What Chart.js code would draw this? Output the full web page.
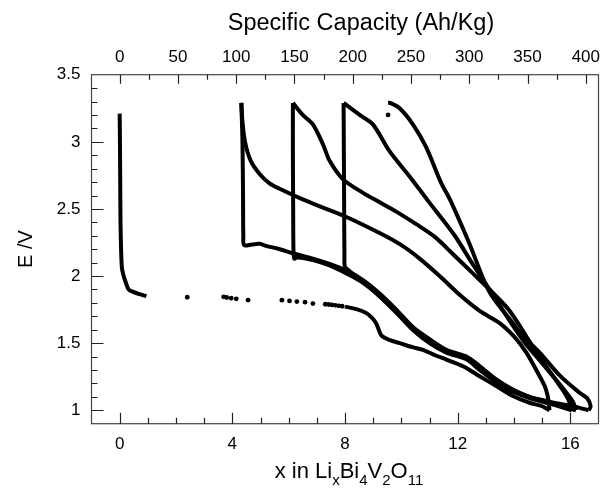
<!DOCTYPE html>
<html><head><meta charset="utf-8">
<script src="https://cdn.jsdelivr.net/npm/chart.js@4.4.1/dist/chart.umd.min.js"></script>
<style>html,body{margin:0;padding:0;background:#fff;}#wrap{width:605px;height:490px;}</style>
</head><body><div id="wrap"><canvas id="c" width="605" height="490"></canvas></div>
<script>
// ---- tick definitions ----
const X_MAJOR = [0, 4, 8, 12, 16];
const X_MINOR = [1, 2, 3, 5, 6, 7, 9, 10, 11, 13, 14, 15];
const CAP_MAJOR = [0, 50, 100, 150, 200, 250, 300, 350, 400];
const CAP_MINOR = [25, 75, 125, 175, 225, 275, 325, 375];
const Y_MAJOR = [1, 1.5, 2, 2.5, 3, 3.5];
const Y_MINOR = [1.1, 1.2, 1.3, 1.4, 1.6, 1.7, 1.8, 1.9, 2.1, 2.2, 2.3, 2.4, 2.6, 2.7, 2.8, 2.9, 3.1, 3.2, 3.3, 3.4];
const CAP_PER_X = 24.17; // Ah/Kg per x unit

// ---- data: [x in LixBi4V2O11, E/V] ----
const discharge1 = [[0.0,3.21],[0.01,3.0],[0.02,2.7],[0.03,2.4],[0.05,2.2],[0.08,2.06],[0.13,2.01],[0.22,1.95],[0.32,1.9],[0.5,1.88],[0.7,1.865],[0.95,1.85]];
const discharge1Dots = [[2.4,1.842],[3.69,1.845],[3.8,1.84],[3.96,1.835],[4.14,1.83],[4.56,1.82],[5.76,1.82],[6.03,1.815],[6.29,1.81],[6.58,1.805],[6.86,1.795],[7.3,1.79],[7.42,1.788],[7.54,1.785],[7.66,1.782],[7.78,1.778],[7.9,1.775],[9.53,3.2]];
const discharge1Tail = [[8.0,1.772],[8.4,1.753],[8.75,1.725],[8.95,1.69],[9.1,1.65],[9.2,1.6],[9.3,1.555],[9.6,1.522],[9.94,1.5],[10.4,1.47],[10.77,1.45],[11.2,1.41],[11.6,1.378],[12.19,1.328],[12.78,1.254],[13.37,1.18],[13.96,1.106],[14.55,1.056],[15.0,1.03],[15.26,1.0]];
const charge1 = [[15.26,1.0],[15.22,1.08],[15.09,1.18],[14.79,1.3],[14.44,1.43],[14.0,1.55],[13.49,1.65],[12.78,1.74],[12.07,1.86],[11.36,2.0],[10.65,2.13],[10.0,2.23],[9.23,2.32],[8.05,2.44],[7.22,2.51],[6.4,2.58],[5.68,2.65],[5.32,2.69],[4.97,2.76],[4.65,2.86],[4.45,3.0],[4.36,3.15],[4.32,3.29]];
const discharge2 = [[4.32,3.29],[4.36,3.0],[4.38,2.6],[4.39,2.3],[4.42,2.23],[4.7,2.235],[4.97,2.24],[5.2,2.225],[5.68,2.2],[6.15,2.17],[6.86,2.13],[7.45,2.09],[8.05,2.04],[8.64,1.97],[9.23,1.87],[9.82,1.75],[10.41,1.62],[11.0,1.53],[11.6,1.45],[12.31,1.40],[12.78,1.33],[13.37,1.23],[13.96,1.155],[14.55,1.1],[15.15,1.06],[15.6,1.03],[16.05,1.0]];
const charge2 = [[16.05,1.0],[15.95,1.07],[15.8,1.13],[15.4,1.25],[14.9,1.4],[14.44,1.55],[14.08,1.67],[13.73,1.77],[13.13,1.9],[12.54,2.02],[11.8,2.17],[11.2,2.29],[10.5,2.39],[9.82,2.48],[9.23,2.55],[8.64,2.62],[7.93,2.72],[7.45,2.86],[7.22,2.98],[6.86,3.13],[6.5,3.2],[6.15,3.29]];
const discharge3 = [[6.15,3.29],[6.15,2.9],[6.16,2.5],[6.17,2.2],[6.2,2.13],[6.3,2.14],[6.86,2.12],[7.45,2.08],[8.05,2.02],[8.64,1.95],[9.23,1.85],[9.82,1.73],[10.41,1.6],[11.0,1.51],[11.6,1.44],[12.31,1.39],[12.78,1.31],[13.37,1.21],[13.96,1.14],[14.55,1.09],[15.15,1.055],[15.7,1.03],[16.2,1.0]];
const charge3 = [[16.2,1.0],[16.1,1.06],[15.9,1.12],[15.6,1.2],[15.0,1.35],[14.4,1.5],[13.96,1.63],[13.13,1.9],[12.5,2.1],[11.9,2.3],[10.95,2.56],[10.3,2.74],[9.58,2.93],[8.99,3.13],[8.52,3.2],[7.95,3.29]];
const discharge4 = [[7.95,3.29],[7.96,2.9],[7.97,2.5],[7.98,2.15],[8.0,2.07],[8.2,2.03],[8.64,1.96],[9.23,1.85],[9.82,1.73],[10.41,1.6],[11.0,1.5],[11.6,1.43],[12.31,1.38],[12.78,1.3],[13.37,1.21],[13.96,1.14],[14.55,1.1],[15.15,1.07],[15.7,1.045],[16.3,1.02],[16.65,1.0]];
const charge4 = [[16.65,1.0],[16.72,1.03],[16.6,1.09],[16.33,1.13],[15.62,1.26],[14.91,1.43],[14.32,1.55],[13.96,1.65],[13.13,1.88],[12.4,2.25],[11.75,2.56],[11.4,2.7],[10.88,2.96],[10.41,3.13],[9.94,3.25],[9.6,3.29],[9.53,3.29]];

const toXY = arr => arr.map(p => ({x: p[0], y: p[1]}));
const curves = [discharge1, discharge1Tail, charge1, discharge2, charge2, discharge3, charge3, discharge4, charge4];
const datasets = curves.map(c => ({
  data: toXY(c), showLine: true, pointRadius: 0, borderColor: '#000', borderWidth: 4, tension: 0.3, fill: false
}));
datasets.push({ data: toXY(discharge1Dots), showLine: false, pointRadius: 2.4, pointBackgroundColor: '#000', pointBorderWidth: 0 });

const FONT = '"Liberation Sans", Arial, sans-serif';

const frameAndTicks = {
  id: 'frameAndTicks',
  afterDraw(chart) {
    const {ctx, chartArea: {left, right, top, bottom}, scales: {x, x2, y}} = chart;
    ctx.save();
    ctx.strokeStyle = '#444'; ctx.lineWidth = 1.2;
    ctx.strokeRect(left, top, right - left, bottom - top);
    ctx.strokeStyle = '#222'; ctx.lineWidth = 1.2;
    ctx.beginPath();
    const xt = (vals, len) => vals.forEach(v => { const p = Math.round(x.getPixelForValue(v)) + 0.5; ctx.moveTo(p, bottom); ctx.lineTo(p, bottom - len); });
    const ct = (vals, len) => vals.forEach(v => { const p = Math.round(x2.getPixelForValue(v)) + 0.5; ctx.moveTo(p, top); ctx.lineTo(p, top + len); });
    const yt = (vals, len) => vals.forEach(v => { const p = Math.round(y.getPixelForValue(v)) + 0.5; ctx.moveTo(left, p); ctx.lineTo(left + len, p); });
    xt(X_MAJOR, 11); xt(X_MINOR, 6);
    ct(CAP_MAJOR, 9); ct(CAP_MINOR, 5);
    yt(Y_MAJOR.filter(v => v < 3.5), 12); yt(Y_MINOR, 6);
    ctx.stroke();

    ctx.fillStyle = '#000';
    ctx.textAlign = 'center'; ctx.textBaseline = 'middle';
    ctx.font = '23.5px ' + FONT;
    ctx.fillText('Specific Capacity (Ah/Kg)', 361, 24);

    ctx.save();
    ctx.translate(26, 249); ctx.rotate(-Math.PI / 2);
    ctx.font = '20px ' + FONT;
    ctx.fillText('E /V', 0, 0);
    ctx.restore();

    // bottom title with subscripts
    const parts = [['x in Li', 0], ['x', 1], ['Bi', 0], ['4', 1], ['V', 0], ['2', 1], ['O', 0], ['11', 1]];
    const mainF = '22px ' + FONT, subF = '15px ' + FONT;
    let w = 0;
    parts.forEach(p => { ctx.font = p[1] ? subF : mainF; w += ctx.measureText(p[0]).width; });
    let cx = 349 - w / 2;
    const base = 478;
    ctx.textAlign = 'left'; ctx.textBaseline = 'alphabetic';
    parts.forEach(p => {
      ctx.font = p[1] ? subF : mainF;
      ctx.fillText(p[0], cx, p[1] ? base + 7 : base);
      cx += ctx.measureText(p[0]).width;
    });
    ctx.restore();
  }
};

const tickFont = {family: FONT, size: 17};
new Chart(document.getElementById('c'), {
  type: 'scatter',
  data: {datasets},
  options: {
    responsive: false, animation: false,
    layout: {padding: {left: 0, right: 6.5, top: 0, bottom: 0}},
    plugins: {legend: {display: false}, tooltip: {enabled: false}},
    scales: {
      x: {
        type: 'linear', position: 'bottom', min: -1, max: 17,
        afterBuildTicks: s => { s.ticks = X_MAJOR.map(v => ({value: v})); },
        ticks: {font: tickFont, color: '#000', padding: 10, maxRotation: 0, autoSkip: false},
        grid: {display: false, drawTicks: false}, border: {display: false},
        afterFit: s => { s.height = 66.3; s.paddingLeft = 0; s.paddingRight = 0; }
      },
      x2: {
        type: 'linear', position: 'top', min: -CAP_PER_X, max: 17 * CAP_PER_X,
        afterBuildTicks: s => { s.ticks = CAP_MAJOR.map(v => ({value: v})); },
        ticks: {font: tickFont, color: '#000', padding: 7, maxRotation: 0, autoSkip: false},
        grid: {display: false, drawTicks: false}, border: {display: false},
        afterFit: s => { s.height = 74.7; s.paddingLeft = 0; s.paddingRight = 0; }
      },
      y: {
        type: 'linear', position: 'left', min: 0.9, max: 3.5,
        afterBuildTicks: s => { s.ticks = Y_MAJOR.map(v => ({value: v})); },
        ticks: {font: tickFont, color: '#000', padding: 11, autoSkip: false, callback: v => String(v)},
        grid: {display: false, drawTicks: false}, border: {display: false},
        afterFit: s => { s.width = 91.5; s.paddingTop = 0; s.paddingBottom = 0; }
      }
    }
  },
  plugins: [frameAndTicks]
});
</script></body></html>
